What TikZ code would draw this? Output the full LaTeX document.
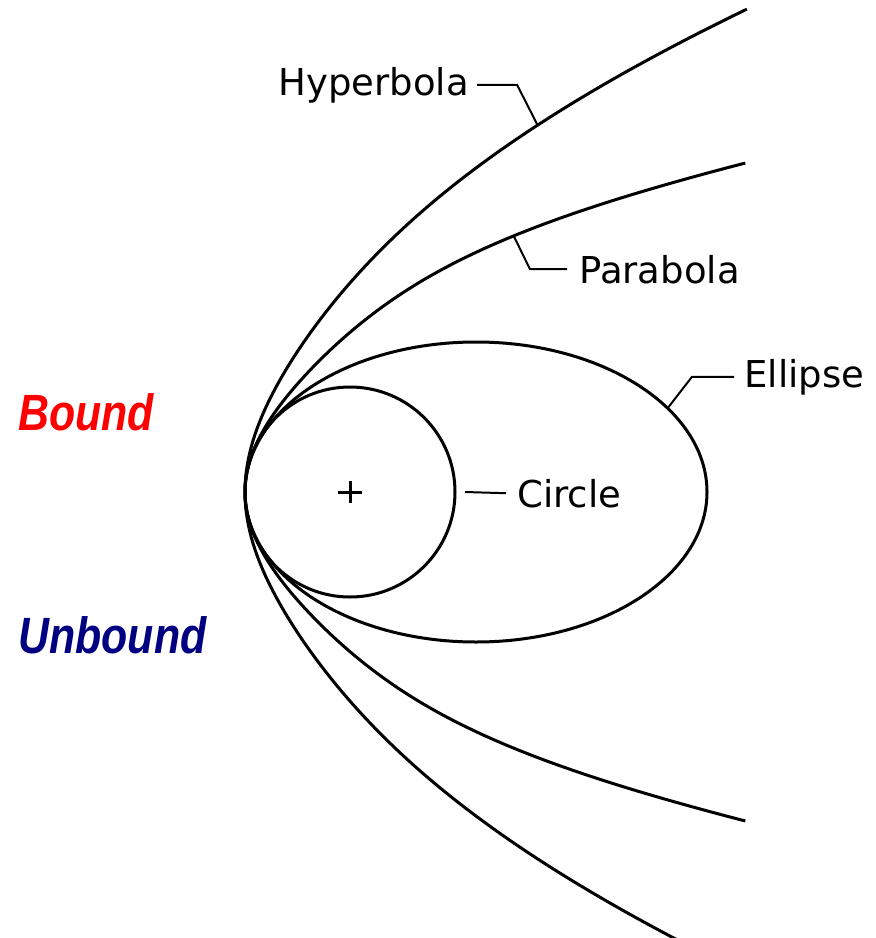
\documentclass[tikz,border=0pt]{standalone}
\usepackage{fontspec}
\setmainfont{DejaVu Sans}
\newfontfamily\kindfont[FakeStretch=0.84]{Liberation Sans}
\definecolor{BoundRed}{RGB}{255,0,0}
\definecolor{UnboundBlue}{RGB}{0,0,128}

\begin{document}
\begin{tikzpicture}[x=0.5pt, y=-0.5pt,
    orb/.style={draw=black, line width=1.5pt, line join=round},
    ld/.style={draw=black, line width=1pt},
    lbl/.style={inner sep=0pt, anchor=base west, font=\fontsize{18.5}{22}\selectfont},
    kind/.style={inner sep=0pt, anchor=base west, font=\kindfont\fontsize{25.5}{30}\selectfont\bfseries\itshape}
  ]
    \clip (0,0) rectangle (876,938);
    \draw[orb] (350,492) circle [radius=105];
    \draw[orb] (476,492) ellipse [x radius=231, y radius=150];
    \draw[orb] plot[domain=-3.29:3.29, samples=131, variable=\u]
      ({245 + 100*\u*\u/(1.95 + 0.57*exp(-((abs(\u)-2.1)/1.2)^2))}, {492 - 100*\u});
    \draw[orb] plot[domain=-4.83:4.83, samples=151, variable=\u]
      ({245 + 100*\u*\u/(4.65 - 1.45*exp(-(\u/2)^2))}, {492 - 100*\u});
    \coordinate (focus) at (350,492);
    \draw[ld, line width=1.5pt] ([xshift=-6pt]focus) -- ([xshift=6pt]focus)
      ([yshift=-5.5pt]focus) -- ([yshift=5.5pt]focus);
    \node[lbl] (hyp) at (278,95) {Hyperbola};
    \node[lbl] (par) at (579,283) {Parabola};
    \node[lbl] (ell) at (744,387) {Ellipse};
    \node[lbl] (cir) at (517,507) {Circle};
    \coordinate (hyptip) at (538,126);
    \coordinate (partip) at (513.5,235.5);
    \coordinate (elltip) at (667,409);
    \coordinate (cirtip) at (465,492);
    \draw[ld] ([xshift=4pt]hyp.east) -- ++(40,0) -- (hyptip);
    \draw[ld] ([xshift=-6pt]par.west) -- ++(-37,0) -- (partip);
    \draw[ld] ([xshift=-5pt]ell.west) -- ++(-42,0) -- (elltip);
    \draw[ld] (cirtip) -- ([xshift=-5.5pt]cir.west);
    \node[kind, text=BoundRed] (bound) at (18,430) {Bound};
    \node[kind, text=UnboundBlue] (unbound) at (18,653) {Unbound};
\end{tikzpicture}
\end{document}
